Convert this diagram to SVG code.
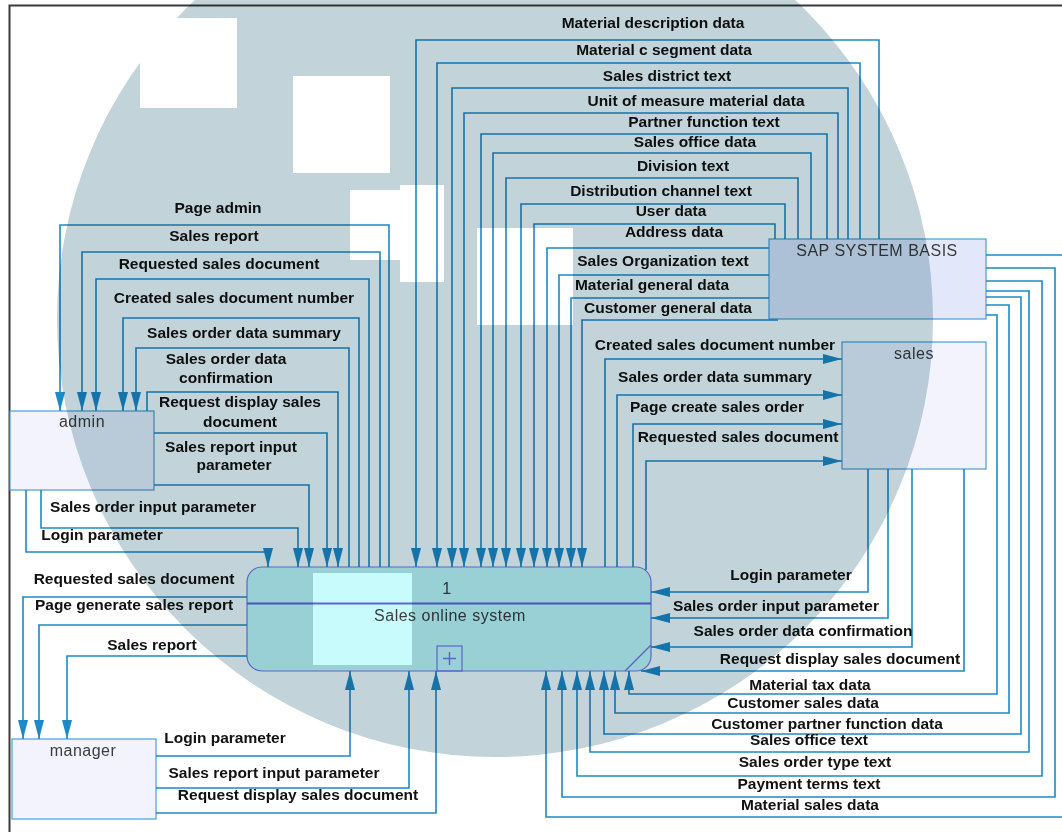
<svg xmlns="http://www.w3.org/2000/svg" width="1062" height="832" viewBox="0 0 1062 832">
<defs>
<style>
.c{fill:none;stroke:#1b8ac6;stroke-width:1.6;marker-end:url(#ah)}
.lb{font-family:"Liberation Sans",Arial,sans-serif;font-weight:bold;font-size:15.5px;fill:#111;text-anchor:middle}
.ent{fill:#f3f3fd;stroke:#4a9fd4;stroke-width:1.2}
.nt{font-family:"Liberation Sans",Arial,sans-serif;font-size:16px;fill:#3c3c3c;text-anchor:middle;letter-spacing:0.5px}
</style>
<marker id="ah" markerWidth="19" markerHeight="10" refX="19" refY="5" orient="auto" markerUnits="userSpaceOnUse">
<path d="M0,0 L19,5 L0,10 z" fill="#1b8ac6"/>
</marker>
</defs>

<rect width="1062" height="832" fill="#fff"/>

<!-- page frame -->
<path d="M9.5,832 V5.5 H1062" fill="none" stroke="#3a3a3a" stroke-width="2"/>

<!-- external entities -->
<g id="admin">
<rect class="ent" x="10" y="411" width="144" height="79"/>
<text class="nt" x="82" y="427">admin</text>
</g>
<g id="manager">
<rect class="ent" x="12" y="739" width="144" height="80"/>
<text class="nt" x="83" y="756">manager</text>
</g>
<g id="sales">
<rect class="ent" x="842" y="342" width="144" height="127"/>
<text class="nt" x="914" y="359">sales</text>
</g>
<g id="sap">
<rect class="ent" x="769" y="239" width="217" height="80" style="fill:#e2e8fa"/>
<text class="nt" x="877" y="256">SAP SYSTEM BASIS</text>
</g>

<!-- process -->
<g id="process">
<rect x="247" y="567" width="404" height="104" rx="15" fill="#c8fbfb" stroke="#7b7be6" stroke-width="1.2"/>
<line x1="247" y1="603.5" x2="651" y2="603.5" stroke="#5a66d8" stroke-width="2"/>
<line x1="625" y1="671" x2="651" y2="645" stroke="#7b7be6" stroke-width="1.5"/>
<rect x="437" y="646" width="25" height="25" fill="none" stroke="#7b7be6" stroke-width="1.2"/>
<path d="M443,658.5 H456 M449.5,652 V665" stroke="#7b7be6" stroke-width="1.5"/>
<text class="nt" x="447" y="594">1</text>
<text class="nt" x="450" y="621">Sales online system</text>
</g>

<!-- data flows -->
<g id="connectors">
<!-- SAP SYSTEM BASIS to process, top -->
<path class="c" d="M879,239 V40 H416 V567"/>
<path class="c" d="M860,239 V63 H437 V567"/>
<path class="c" d="M848,239 V88 H452 V567"/>
<path class="c" d="M838,239 V113 H464 V567"/>
<path class="c" d="M827,239 V134 H481 V567"/>
<path class="c" d="M811,239 V153 H493 V567"/>
<path class="c" d="M798,239 V178 H506 V567"/>
<path class="c" d="M785,239 V204 H521 V567"/>
<path class="c" d="M775,239 V224 H534 V567"/>
<path class="c" d="M769,248 H547 V567"/>
<path class="c" d="M769,275 H559 V567"/>
<path class="c" d="M769,298 H571 V567"/>
<path class="c" d="M778,320 H582 V567"/>

<!-- process to admin -->
<path class="c" d="M389,567 V225 H60 V411"/>
<path class="c" d="M380,567 V252 H82 V411"/>
<path class="c" d="M369,567 V279 H96 V411"/>
<path class="c" d="M359,567 V318 H123 V411"/>
<path class="c" d="M349,567 V348 H136 V411"/>
<!-- admin to process -->
<path class="c" d="M147,411 V392 H338 V567"/>
<path class="c" d="M154,433 H327 V567"/>
<path class="c" d="M154,485 H309 V567"/>
<path class="c" d="M41,490 V528 H298 V567"/>
<path class="c" d="M26,490 V552 H268 V567"/>

<!-- process to manager -->
<path class="c" d="M247,597 H23 V739"/>
<path class="c" d="M247,625 H39 V739"/>
<path class="c" d="M247,656 H67 V739"/>
<!-- manager to process -->
<path class="c" d="M156,756 H350 V671"/>
<path class="c" d="M156,788 H409 V671"/>
<path class="c" d="M156,813 H436 V671"/>

<!-- process to sales -->
<path class="c" d="M605,567 V359 H842"/>
<path class="c" d="M617,567 V395 H842"/>
<path class="c" d="M633,567 V424 H842"/>
<path class="c" d="M646,570 V461 H842"/>
<!-- sales to process -->
<path class="c" d="M868,469 V592 H651"/>
<path class="c" d="M888,469 V618 H651"/>
<path class="c" d="M912,469 V647 H651"/>
<path class="c" d="M964,469 V671 H641"/>

<!-- SAP SYSTEM BASIS to process, bottom -->
<path class="c" d="M986,315 H997 V694 H629 V671"/>
<path class="c" d="M986,305 H1009 V713 H615 V671"/>
<path class="c" d="M986,297 H1021 V734 H604 V671"/>
<path class="c" d="M986,291 H1029 V752 H590 V671"/>
<path class="c" d="M986,281 H1042 V776 H577 V671"/>
<path class="c" d="M986,268 H1055 V797 H562 V671"/>
<path class="c" d="M986,255 H1066 V817 H546 V671"/>

<!-- flow labels -->
<text class="lb" x="653" y="28">Material description data</text>
<text class="lb" x="664" y="55">Material c segment data</text>
<text class="lb" x="667" y="81">Sales district text</text>
<text class="lb" x="696" y="106">Unit of measure material data</text>
<text class="lb" x="704" y="127">Partner function text</text>
<text class="lb" x="695" y="147">Sales office data</text>
<text class="lb" x="683" y="171">Division text</text>
<text class="lb" x="661" y="196">Distribution channel text</text>
<text class="lb" x="671" y="216">User data</text>
<text class="lb" x="674" y="237">Address data</text>
<text class="lb" x="663" y="266">Sales Organization text</text>
<text class="lb" x="652" y="290">Material general data</text>
<text class="lb" x="668" y="313">Customer general data</text>

<text class="lb" x="218" y="213">Page admin</text>
<text class="lb" x="214" y="241">Sales report</text>
<text class="lb" x="219" y="269">Requested sales document</text>
<text class="lb" x="234" y="303">Created sales document number</text>
<text class="lb" x="244" y="338">Sales order data summary</text>
<text class="lb" x="226" y="364">Sales order data</text>
<text class="lb" x="226" y="383">confirmation</text>
<text class="lb" x="240" y="407">Request display sales</text>
<text class="lb" x="240" y="427">document</text>
<text class="lb" x="231" y="452">Sales report input</text>
<text class="lb" x="234" y="470">parameter</text>
<text class="lb" x="153" y="512">Sales order input parameter</text>
<text class="lb" x="102" y="540">Login parameter</text>

<text class="lb" x="134" y="584">Requested sales document</text>
<text class="lb" x="134" y="610">Page generate sales report</text>
<text class="lb" x="152" y="650">Sales report</text>

<text class="lb" x="225" y="743">Login parameter</text>
<text class="lb" x="274" y="778">Sales report input parameter</text>
<text class="lb" x="298" y="800">Request display sales document</text>

<text class="lb" x="715" y="350">Created sales document number</text>
<text class="lb" x="715" y="382">Sales order data summary</text>
<text class="lb" x="717" y="412">Page create sales order</text>
<text class="lb" x="738" y="442">Requested sales document</text>

<text class="lb" x="791" y="580">Login parameter</text>
<text class="lb" x="776" y="611">Sales order input parameter</text>
<text class="lb" x="803" y="636">Sales order data confirmation</text>
<text class="lb" x="840" y="664">Request display sales document</text>

<text class="lb" x="810" y="690">Material tax data</text>
<text class="lb" x="803" y="708">Customer sales data</text>
<text class="lb" x="827" y="729">Customer partner function data</text>
<text class="lb" x="809" y="745">Sales office text</text>
<text class="lb" x="815" y="767">Sales order type text</text>
<text class="lb" x="809" y="789">Payment terms text</text>
<text class="lb" x="810" y="810">Material sales data</text>
</g>

<!-- tinted backdrop shape laid over the drawing -->
<g id="backdrop" style="mix-blend-mode:multiply">
<circle cx="495" cy="319" r="438" fill="#c2d4da"/>
<rect x="140" y="18" width="97" height="90" fill="#fff"/>
<rect x="293" y="76" width="97" height="97" fill="#fff"/>
<rect x="350" y="190" width="55" height="70" fill="#fff"/>
<rect x="400" y="185" width="44" height="97" fill="#fff"/>
<rect x="477" y="228" width="96" height="97" fill="#fff"/>
<rect x="313" y="573" width="99" height="92" fill="#fff"/>
</g>
</svg>
